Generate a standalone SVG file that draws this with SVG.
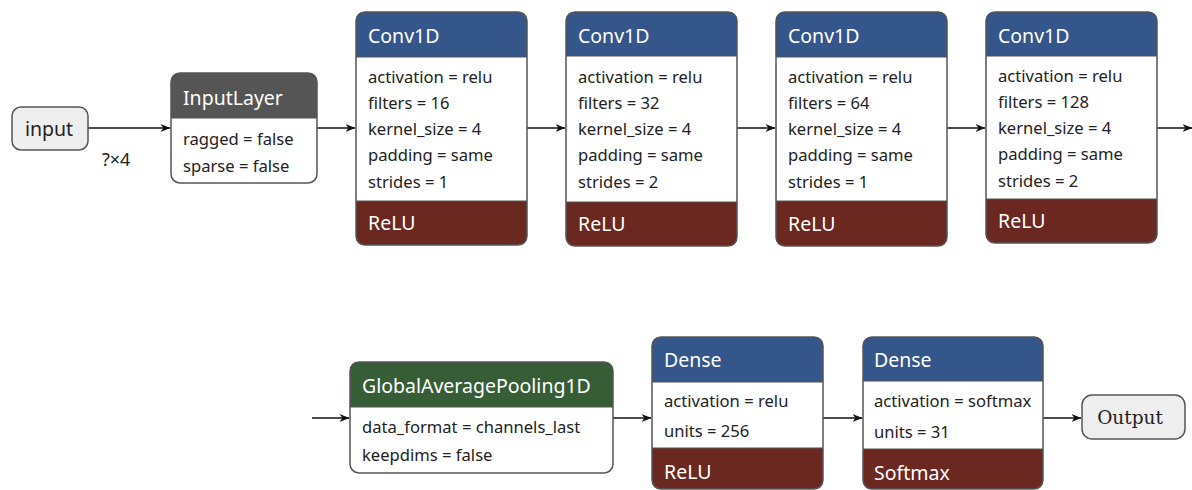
<svg xmlns="http://www.w3.org/2000/svg" width="1192" height="490" viewBox="0 0 1192 490">
<style>
.bg{fill:#ffffff}
.outline{fill:none;stroke:#555555;stroke-width:1.5}
.body{fill:#ffffff}
.blue{fill:#34568b}
.red{fill:#6b2820}
.green{fill:#375d36}
.gray{fill:#555555}
.sep{stroke:#555555;stroke-width:1}
.title{font-family:"Noto Sans","Open Sans",sans-serif;font-size:19.5px;fill:#ffffff}
.row{font-family:"Noto Sans","Open Sans",sans-serif;font-size:16.6px;fill:#222222}
.term{fill:#eeeeee;stroke:#555555;stroke-width:1.5}
.termtxt{font-family:"Noto Sans","Open Sans",sans-serif;font-size:19.5px;fill:#222222}
.conn{stroke:#111111;stroke-width:1.6;fill:none;marker-end:url(#arr)}
.lbl{font-family:"Noto Sans","Open Sans",sans-serif;font-size:18px;fill:#222222}
</style>
<defs>
<marker id="arr" viewBox="0 0 10 8" refX="9.5" refY="4" markerWidth="10" markerHeight="8" markerUnits="userSpaceOnUse" orient="auto">
<path d="M0,0 L10,4 L0,8 L3,4 Z" fill="#111111"/>
</marker>
</defs>
<rect class="bg" x="0" y="0" width="1192" height="490"/>

<g id="connectors">
<line class="conn" x1="88" y1="128" x2="170" y2="128"/>
<line class="conn" x1="317" y1="128" x2="355" y2="128"/>
<line class="conn" x1="527" y1="128" x2="565" y2="128"/>
<line class="conn" x1="737" y1="128" x2="775" y2="128"/>
<line class="conn" x1="947" y1="128" x2="985" y2="128"/>
<line class="conn" x1="1157" y1="128" x2="1192" y2="128"/>
<line class="conn" x1="312" y1="418" x2="349" y2="418"/>
<line class="conn" x1="613" y1="418" x2="651" y2="418"/>
<line class="conn" x1="823" y1="418" x2="862" y2="418"/>
<line class="conn" x1="1043" y1="418" x2="1081" y2="418"/>
<text class="lbl" x="102" y="166">?×4</text>
</g>

<g id="input">
<rect class="term" x="12" y="107" width="76" height="43" rx="9"/>
<text class="termtxt" x="49" y="136" text-anchor="middle">input</text>
</g>

<g id="inputlayer">
<rect class="body" x="171" y="73" width="146" height="110" rx="9"/>
<path class="gray" d="M171,118 V82 Q171,73 180,73 H308 Q317,73 317,82 V118 Z"/>
<line class="sep" x1="171" y1="118" x2="317" y2="118"/>
<rect class="outline" x="171" y="73" width="146" height="110" rx="9"/>
<text class="title" x="183" y="105">InputLayer</text>
<text class="row" x="183" y="145">ragged = false</text>
<text class="row" x="183" y="172">sparse = false</text>
</g>

<g id="conv1">
<rect class="body" x="356" y="12" width="171" height="233" rx="9"/>
<path class="blue" d="M356,57 V21 Q356,12 365,12 H518 Q527,12 527,21 V57 Z"/>
<path class="red" d="M356,201 H527 V236 Q527,245 518,245 H365 Q356,245 356,236 Z"/>
<line class="sep" x1="356" y1="57" x2="527" y2="57"/>
<line class="sep" x1="356" y1="201" x2="527" y2="201"/>
<rect class="outline" x="356" y="12" width="171" height="233" rx="9"/>
<text class="title" x="368" y="43">Conv1D</text>
<text class="row" x="368" y="83">activation = relu</text>
<text class="row" x="368" y="109">filters = 16</text>
<text class="row" x="368" y="135">kernel_size = 4</text>
<text class="row" x="368" y="161">padding = same</text>
<text class="row" x="368" y="188">strides = 1</text>
<text class="title" x="368" y="230">ReLU</text>
</g>

<g id="conv2">
<rect class="body" x="566" y="12" width="171" height="234" rx="9"/>
<path class="blue" d="M566,56 V21 Q566,12 575,12 H728 Q737,12 737,21 V56 Z"/>
<path class="red" d="M566,202 H737 V237 Q737,246 728,246 H575 Q566,246 566,237 Z"/>
<line class="sep" x1="566" y1="56" x2="737" y2="56"/>
<line class="sep" x1="566" y1="202" x2="737" y2="202"/>
<rect class="outline" x="566" y="12" width="171" height="234" rx="9"/>
<text class="title" x="578" y="43">Conv1D</text>
<text class="row" x="578" y="83">activation = relu</text>
<text class="row" x="578" y="109">filters = 32</text>
<text class="row" x="578" y="135">kernel_size = 4</text>
<text class="row" x="578" y="161">padding = same</text>
<text class="row" x="578" y="188">strides = 2</text>
<text class="title" x="578" y="231">ReLU</text>
</g>

<g id="conv3">
<rect class="body" x="776" y="12" width="171" height="234" rx="9"/>
<path class="blue" d="M776,57 V21 Q776,12 785,12 H938 Q947,12 947,21 V57 Z"/>
<path class="red" d="M776,201 H947 V237 Q947,246 938,246 H785 Q776,246 776,237 Z"/>
<line class="sep" x1="776" y1="57" x2="947" y2="57"/>
<line class="sep" x1="776" y1="201" x2="947" y2="201"/>
<rect class="outline" x="776" y="12" width="171" height="234" rx="9"/>
<text class="title" x="788" y="43">Conv1D</text>
<text class="row" x="788" y="83">activation = relu</text>
<text class="row" x="788" y="109">filters = 64</text>
<text class="row" x="788" y="135">kernel_size = 4</text>
<text class="row" x="788" y="161">padding = same</text>
<text class="row" x="788" y="188">strides = 1</text>
<text class="title" x="788" y="231">ReLU</text>
</g>

<g id="conv4">
<rect class="body" x="986" y="12" width="171" height="231" rx="9"/>
<path class="blue" d="M986,56 V21 Q986,12 995,12 H1148 Q1157,12 1157,21 V56 Z"/>
<path class="red" d="M986,199 H1157 V234 Q1157,243 1148,243 H995 Q986,243 986,234 Z"/>
<line class="sep" x1="986" y1="56" x2="1157" y2="56"/>
<line class="sep" x1="986" y1="199" x2="1157" y2="199"/>
<rect class="outline" x="986" y="12" width="171" height="231" rx="9"/>
<text class="title" x="998" y="43">Conv1D</text>
<text class="row" x="998" y="82">activation = relu</text>
<text class="row" x="998" y="108">filters = 128</text>
<text class="row" x="998" y="134">kernel_size = 4</text>
<text class="row" x="998" y="160">padding = same</text>
<text class="row" x="998" y="187">strides = 2</text>
<text class="title" x="998" y="228">ReLU</text>
</g>

<g id="gap">
<rect class="body" x="350" y="362" width="263" height="111" rx="9"/>
<path class="green" d="M350,407 V371 Q350,362 359,362 H604 Q613,362 613,371 V407 Z"/>
<line class="sep" x1="350" y1="407" x2="613" y2="407"/>
<rect class="outline" x="350" y="362" width="263" height="111" rx="9"/>
<text class="title" x="362" y="393">GlobalAveragePooling1D</text>
<text class="row" x="362" y="433">data_format = channels_last</text>
<text class="row" x="362" y="461">keepdims = false</text>
</g>

<g id="dense1">
<rect class="body" x="652" y="337" width="171" height="152" rx="9"/>
<path class="blue" d="M652,382 V346 Q652,337 661,337 H814 Q823,337 823,346 V382 Z"/>
<path class="red" d="M652,448 H823 V480 Q823,489 814,489 H661 Q652,489 652,480 Z"/>
<line class="sep" x1="652" y1="382" x2="823" y2="382"/>
<line class="sep" x1="652" y1="448" x2="823" y2="448"/>
<rect class="outline" x="652" y="337" width="171" height="152" rx="9"/>
<text class="title" x="664" y="367">Dense</text>
<text class="row" x="664" y="407">activation = relu</text>
<text class="row" x="664" y="437">units = 256</text>
<text class="title" x="664" y="479">ReLU</text>
</g>

<g id="dense2">
<rect class="body" x="863" y="337" width="180" height="152" rx="9"/>
<path class="blue" d="M863,381 V346 Q863,337 872,337 H1034 Q1043,337 1043,346 V381 Z"/>
<path class="red" d="M863,449 H1043 V480 Q1043,489 1034,489 H872 Q863,489 863,480 Z"/>
<line class="sep" x1="863" y1="381" x2="1043" y2="381"/>
<line class="sep" x1="863" y1="449" x2="1043" y2="449"/>
<rect class="outline" x="863" y="337" width="180" height="152" rx="9"/>
<text class="title" x="874" y="367">Dense</text>
<text class="row" x="874" y="407">activation = softmax</text>
<text class="row" x="874" y="438">units = 31</text>
<text class="title" x="874" y="480">Softmax</text>
</g>

<g id="output">
<rect class="term" x="1082" y="395" width="103" height="44" rx="10"/>
<text x="1130" y="424" text-anchor="middle" style="font-family:'DejaVu Serif','Liberation Serif',serif;font-size:18.5px;fill:#222222">Output</text>
</g>
</svg>
